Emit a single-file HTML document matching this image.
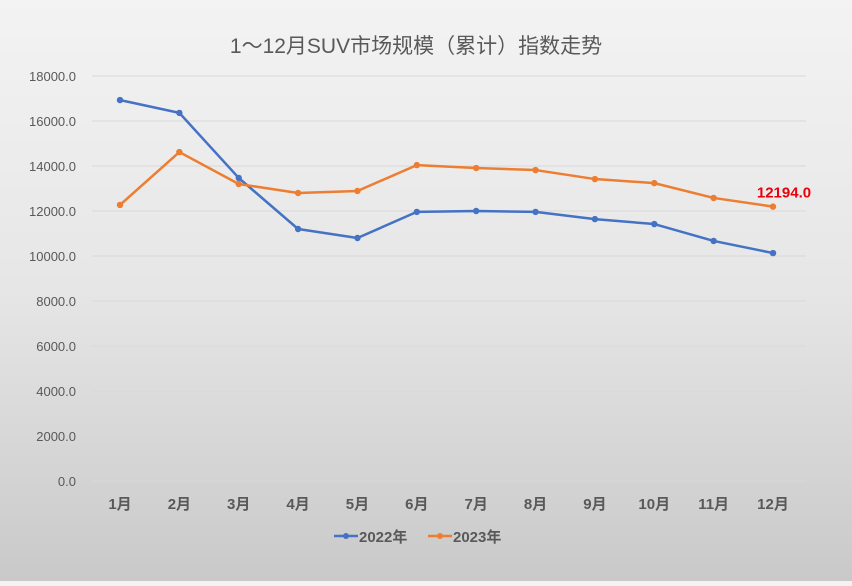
<!DOCTYPE html>
<html><head><meta charset="utf-8"><style>
html,body{margin:0;padding:0}
body{width:852px;height:581px;overflow:hidden;background:linear-gradient(#f3f3f3 0%,#e6e6e6 50%,#c9c9c9 100%);font-family:"Liberation Sans","Noto Sans CJK SC",sans-serif}
</style></head><body>
<svg id="chart" width="852" height="581" xmlns="http://www.w3.org/2000/svg" style="font-family:'Liberation Sans','Noto Sans CJK SC',sans-serif">
<text x="416" y="53" text-anchor="middle" font-size="21" fill="#595959">1～12月SUV市场规模（累计）指数走势</text>
<g id="grid"></g><g id="yticks"></g><g id="xticks"></g><g id="series"></g>
<g>
<g><line x1="334" y1="536" x2="358" y2="536" stroke="#4472c4" stroke-width="2.5"/><circle cx="346" cy="536" r="3" fill="#4472c4"/><text x="359" y="542" font-size="15" font-weight="bold" fill="#595959">2022年</text></g>
<g><line x1="428" y1="536" x2="452" y2="536" stroke="#ed7d31" stroke-width="2.5"/><circle cx="440" cy="536" r="3" fill="#ed7d31"/><text x="453" y="542" font-size="15" font-weight="bold" fill="#595959">2023年</text></g>
</g>
</svg>
<script>
const categories=["1月","2月","3月","4月","5月","6月","7月","8月","9月","10月","11月","12月"];
const series2022=[16930,16360,13470,11200,10800,11960,12000,11960,11640,11420,10670,10130];
const series2023=[12270,14620,13200,12800,12890,14040,13910,13820,13420,13240,12580,12194];
const yTicks=[0,2000,4000,6000,8000,10000,12000,14000,16000,18000];
const NS="http://www.w3.org/2000/svg";
const y=v=>481-v*(405/18000);
const x=i=>120+i*(653/11);
function mk(t,a,p){const e=document.createElementNS(NS,t);for(const k in a)e.setAttribute(k,a[k]);p.appendChild(e);return e;}
const g=document.getElementById('grid'),yt=document.getElementById('yticks'),xt=document.getElementById('xticks'),sg=document.getElementById('series');
yTicks.forEach(v=>{
 const l=mk('line',{x1:92,x2:806,y1:y(v),y2:y(v),stroke:'#d9d9d9','stroke-width':1},g);
 
 
 const t=mk('text',{x:76,y:y(v)+5,'text-anchor':'end','font-size':13,fill:'#595959'},yt);
 t.textContent=v.toFixed(1);
 
 
});
categories.forEach((c,i)=>{
 const t=mk('text',{x:x(i),y:509,'text-anchor':'middle','font-size':15,'font-weight':'bold',fill:'#595959'},xt);
 t.textContent=c;
 
 
});
function draw(data,color,name){
 const p=mk('polyline',{points:data.map((v,i)=>x(i)+','+y(v)).join(' '),fill:'none',stroke:color,'stroke-width':2.5,'stroke-linejoin':'round'},sg);
 
 
 data.forEach((v,i)=>{
  const c=mk('circle',{cx:x(i),cy:y(v),r:3.2,fill:color},sg);
  
  
 });
}
draw(series2022,'#4472c4','series-2022');
draw(series2023,'#ed7d31','series-2023');
const last=series2023.length-1;
const lbl=mk('text',{x:x(last)+11,y:y(series2023[last])-9,'text-anchor':'middle','font-size':15,'font-weight':'bold',fill:'#e8000b'},sg);
lbl.textContent=series2023[last].toFixed(1);


</script>
</body></html>
